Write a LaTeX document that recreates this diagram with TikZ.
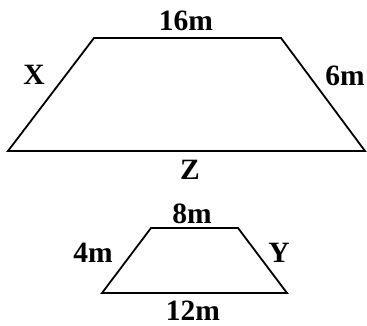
\documentclass[tikz,border=0pt]{standalone}
\usepackage{fontspec}
\setmainfont{Liberation Serif}
\begin{document}
\begin{tikzpicture}[x=1pt,y=-1pt,
  edge/.style={line width=1.8pt,line join=miter},
  lbl/.style={inner sep=0pt,anchor=base,font=\fontsize{29.5}{30}\selectfont\bfseries}]
\useasboundingbox (0,0) rectangle (367,326);
% large trapezoid
\coordinate (A1) at (94,38);
\coordinate (B1) at (281,38);
\coordinate (C1) at (365,151);
\coordinate (D1) at (8,151);
\draw[edge] (A1) -- (B1) -- (C1) -- (D1) -- cycle;
\node[lbl] (t16) at (186,31) {16m};
\node[lbl] (tX) at (34,85) {X};
\node[lbl] (t6) at (345,86) {6m};
\node[lbl] (tZ) at (190,180) {Z};
% small trapezoid
\coordinate (A2) at (151,228);
\coordinate (B2) at (238,228);
\coordinate (C2) at (287,293);
\coordinate (D2) at (102,293);
\draw[edge] (A2) -- (B2) -- (C2) -- (D2) -- cycle;
\node[lbl] (t8) at (192,223) {8m};
\node[lbl] (t4) at (93,262) {4m};
\node[lbl] (tY) at (279,262) {Y};
\node[lbl] (t12) at (193,320.5) {12m};
\end{tikzpicture}
\end{document}
